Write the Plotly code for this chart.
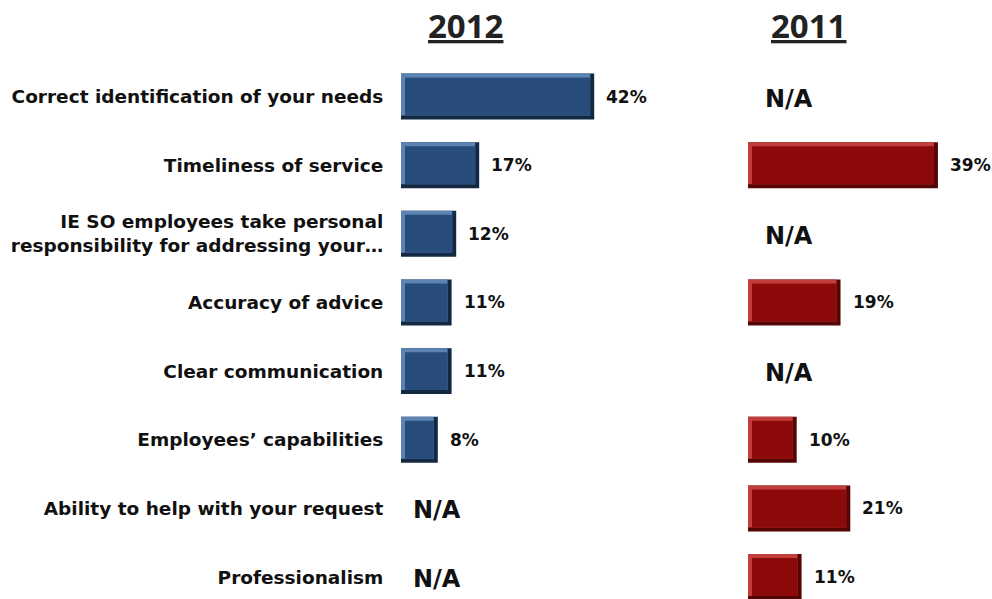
import plotly.graph_objects as go

# ---- data -------------------------------------------------------------
categories = [
    "Correct identification of your needs",
    "Timeliness of service",
    "IE SO employees take personal<br>responsibility for addressing your…",
    "Accuracy of advice",
    "Clear communication",
    "Employees’ capabilities",
    "Ability to help with your request",
    "Professionalism",
]
values_2012 = [42, 17, 12, 11, 11, 8, None, None]
values_2011 = [None, 39, None, 19, None, 10, 21, 11]
years = ["2012", "2011"]

# ---- styling ----------------------------------------------------------
W, H = 992, 599
LABEL_FONT = "DejaVu Sans"
TITLE_FONT = "Open Sans"
panels = [
    dict(domain=(401, 677), xmax=60, face="#294d7b", light="#5b84b3", dark="#132842",
         na_shift=10, title_x=465),
    dict(domain=(748, 991.5), xmax=50, face="#8c0a0a", light="#c43d3d", dark="#540505",
         na_shift=15, title_x=808),
]
BAR_W = 0.67      # bar thickness in category units
EDGE_PX = 4       # bevel width in pixels
Y_RANGE = [7.32, -1.407]
row_px = H / (Y_RANGE[0] - Y_RANGE[1])
edge_y = EDGE_PX / row_px

fig = go.Figure()
rows = list(range(len(categories)))
annotations = []

for k, (vals, p) in enumerate(zip([values_2012, values_2011], panels)):
    xa = "x" if k == 0 else "x2"
    ya = "y" if k == 0 else "y2"
    px_per_unit = (p["domain"][1] - p["domain"][0]) / p["xmax"]
    edge_x = EDGE_PX / px_per_unit
    ys = [r for r, v in zip(rows, vals) if v is not None]
    xs = [v for v in vals if v is not None]

    # dark outer body (bottom / right shading)
    fig.add_trace(go.Bar(
        x=xs, y=ys, orientation="h", width=BAR_W, offset=-BAR_W / 2,
        marker=dict(color=p["dark"], line=dict(width=0)),
        xaxis=xa, yaxis=ya, hoverinfo="skip", showlegend=False))
    # light bevel (top / left highlight)
    fig.add_trace(go.Bar(
        x=[v - edge_x for v in xs], y=ys, orientation="h",
        width=BAR_W - edge_y, offset=-BAR_W / 2,
        marker=dict(color=p["light"], line=dict(width=0)),
        xaxis=xa, yaxis=ya, hoverinfo="skip", showlegend=False))
    # bar face
    fig.add_trace(go.Bar(
        x=[v - 2 * edge_x for v in xs], base=[edge_x] * len(xs), y=ys, orientation="h",
        width=BAR_W - 2 * edge_y, offset=-BAR_W / 2 + edge_y,
        marker=dict(color=p["face"], line=dict(width=0)),
        xaxis=xa, yaxis=ya, name=years[k], showlegend=False,
        hovertemplate="%{y}: %{customdata}%<extra>" + years[k] + "</extra>",
        customdata=xs))

    # value labels and N/A markers
    for r, v in zip(rows, vals):
        if v is None:
            annotations.append(dict(
                x=0, y=r, xref=xa, yref=ya, text="N/A", showarrow=False,
                xanchor="left", yanchor="middle", xshift=p["na_shift"], yshift=-2,
                font=dict(family=LABEL_FONT, size=24, color="#111111", weight="bold")))
        else:
            annotations.append(dict(
                x=v, y=r, xref=xa, yref=ya, text=f"{v}%", showarrow=False,
                xanchor="left", yanchor="middle", xshift=10,
                font=dict(family=LABEL_FONT, size=17, color="#111111", weight="bold")))

    # year heading
    annotations.append(dict(
        x=p["title_x"] / W, y=1 - 25 / H, xref="paper", yref="paper",
        text=f"<b><u>{years[k]}</u></b>", showarrow=False,
        xanchor="center", yanchor="middle",
        font=dict(family=TITLE_FONT, size=33, color="#222222")))

fig.update_layout(
    width=W, height=H,
    margin=dict(l=0, r=0, t=0, b=0),
    paper_bgcolor="white", plot_bgcolor="white",
    barmode="overlay",
    annotations=annotations,
    xaxis=dict(domain=[panels[0]["domain"][0] / W, panels[0]["domain"][1] / W],
               range=[0, panels[0]["xmax"]], visible=False, fixedrange=True),
    xaxis2=dict(domain=[panels[1]["domain"][0] / W, panels[1]["domain"][1] / W],
                range=[0, panels[1]["xmax"]], visible=False, fixedrange=True),
    yaxis=dict(domain=[0, 1], range=Y_RANGE, anchor="x",
               tickvals=rows, ticktext=categories,
               ticks="outside", ticklen=13, tickcolor="rgba(0,0,0,0)",
               showline=False, showgrid=False, zeroline=False, automargin=False,
               tickfont=dict(family=LABEL_FONT, size=18.5, color="#111111", weight="bold")),
    yaxis2=dict(domain=[0, 1], range=Y_RANGE, anchor="x2", matches="y",
                showticklabels=False, showline=False, showgrid=False, zeroline=False),
)

fig.write_html("out.html")
